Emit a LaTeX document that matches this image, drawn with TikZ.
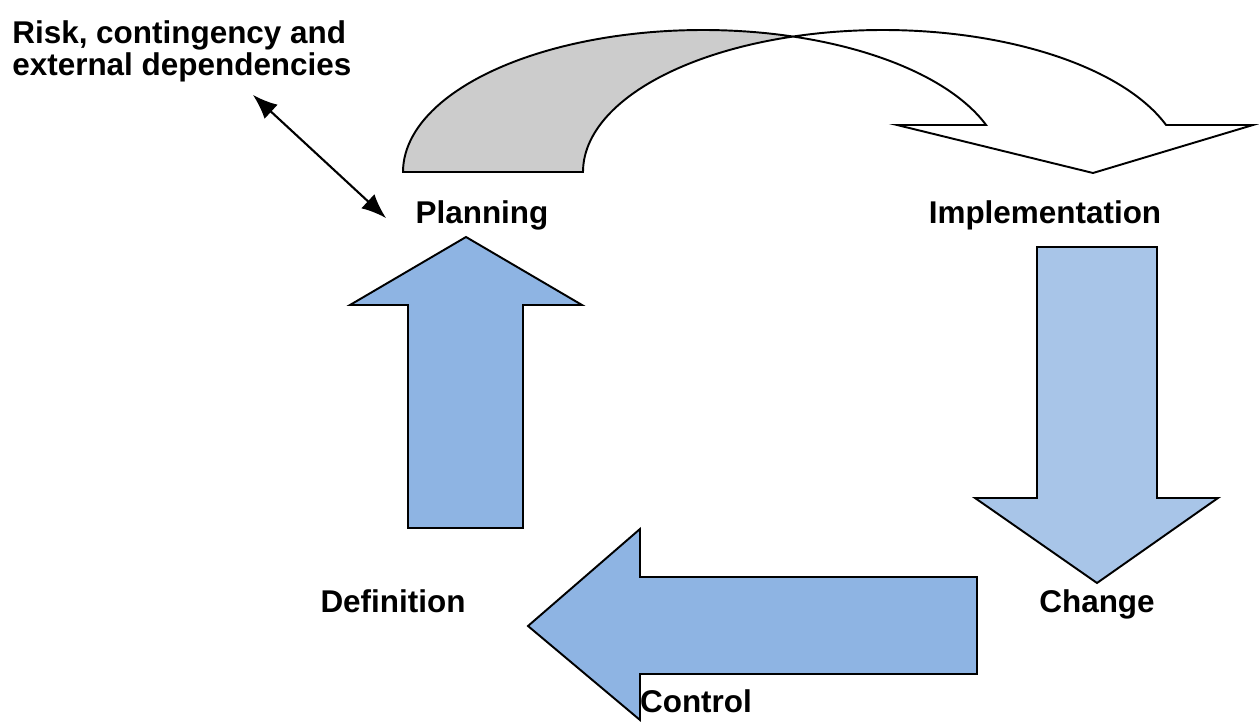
\documentclass[tikz,border=0pt]{standalone}
\usepackage{fontspec}
\setmainfont{Liberation Sans}
\usetikzlibrary{arrows.meta}

\definecolor{upblue}{RGB}{142,180,227}
\definecolor{downblue}{RGB}{168,197,232}
\definecolor{backgray}{RGB}{204,204,204}

\begin{document}
\begin{tikzpicture}[x=0.02cm,y=-0.02cm,
  blockarrow/.style={draw=black,line width=1.1pt,line join=miter},
  lbl/.style={font=\fontsize{17.9}{19}\selectfont\bfseries,inner sep=0pt}]
\useasboundingbox (0,0) rectangle (1259,722);
% labels
\node[lbl,anchor=base west,align=left] (risk) at (12,76) {Risk, contingency and\\[-0.5pt]external dependencies};
\node[lbl,anchor=base] (plan) at (482,224) {Planning};
\node[lbl,anchor=base] (impl) at (1045,224) {Implementation};
\node[lbl,anchor=base] (defn) at (393,613) {Definition};
\node[lbl,anchor=base] (chg) at (1097,613) {Change};
\node[lbl,anchor=base] (ctrl) at (696,713) {Control};
% curved arrow, back part
\filldraw[blockarrow,fill=backgray]
  plot[domain=180:72.54,samples=60] ({703+300*cos(\x)},{172-142*sin(\x)})
  -- plot[domain=107.46:180,samples=60] ({883+300*cos(\x)},{172-142*sin(\x)})
  -- cycle;
% curved arrow, front part
\filldraw[blockarrow,fill=white]
  plot[domain=107.46:19.33,samples=80] ({883+300*cos(\x)},{172-142*sin(\x)})
  -- (1253,125) -- (1093,173) -- (897,125)
  -- plot[domain=19.33:72.54,samples=60] ({703+300*cos(\x)},{172-142*sin(\x)})
  -- cycle;
% block arrows
\filldraw[blockarrow,fill=upblue] (408,528) -- (408,305) -- (350,305) -- (466,237)
  -- (582,305) -- (523,305) -- (523,528) -- cycle;
\filldraw[blockarrow,fill=downblue] (1037,247) -- (1157,247) -- (1157,498) -- (1218,498)
  -- (1097,583) -- (975,498) -- (1037,498) -- cycle;
\filldraw[blockarrow,fill=upblue] (977,577) -- (640,577) -- (640,529) -- (528,626)
  -- (640,720) -- (640,674) -- (977,674) -- cycle;
% link to planning
\coordinate (riskend) at (253,95);
\coordinate (planend) at (386,218);
\draw[{Latex[length=14pt,width=11pt]}-{Latex[length=14pt,width=11pt]},line width=1.2pt] (riskend) -- (planend);
\end{tikzpicture}
\end{document}
